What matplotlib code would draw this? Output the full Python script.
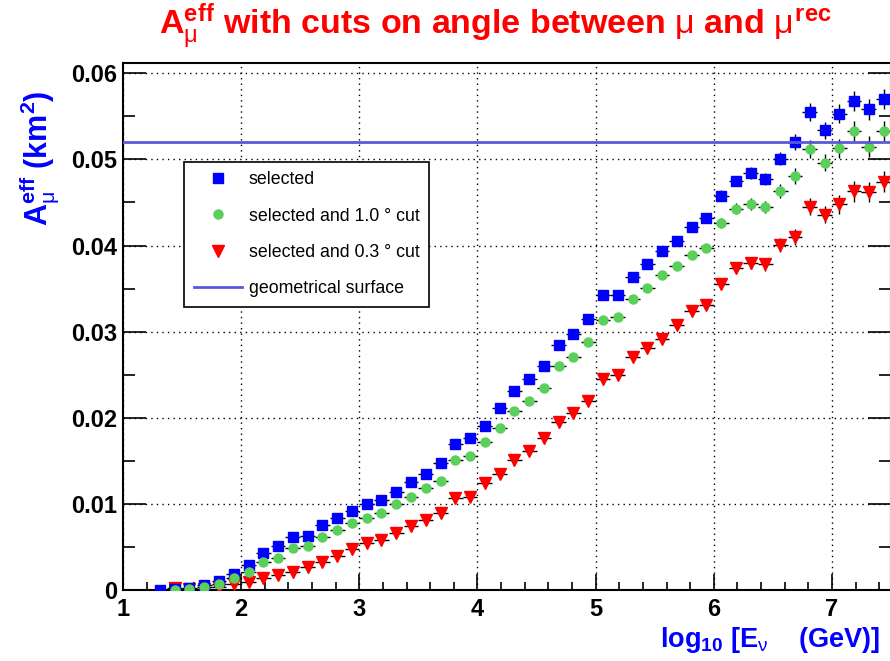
import numpy as np
import matplotlib.pyplot as plt
from matplotlib.ticker import MultipleLocator, FuncFormatter
from matplotlib.lines import Line2D

# binning in log10(E_nu / GeV)
bin_lo = 1.25
bin_hi = 7.5
n_bins = 50

# effective area (km^2) per bin
selected = [0.0000, 0.0001, 0.0002, 0.0006, 0.0011, 0.0019, 0.0029, 0.0043, 0.0051, 0.0062,
            0.0063, 0.0075, 0.0084, 0.0092, 0.0100, 0.0105, 0.0114, 0.0126, 0.0135, 0.0147,
            0.0169, 0.0177, 0.0191, 0.0211, 0.0231, 0.0245, 0.0260, 0.0285, 0.0297, 0.0315,
            0.0342, 0.0342, 0.0364, 0.0378, 0.0394, 0.0405, 0.0422, 0.0432, 0.0458, 0.0475,
            0.0484, 0.0477, 0.0501, 0.0520, 0.0555, 0.0534, 0.0553, 0.0568, 0.0558, 0.0570]
cut_10 = [np.nan, 0.0000, 0.0001, 0.0003, 0.0007, 0.0014, 0.0021, 0.0032, 0.0037, 0.0049,
          0.0051, 0.0061, 0.0070, 0.0078, 0.0084, 0.0090, 0.0100, 0.0108, 0.0118, 0.0127,
          0.0151, 0.0156, 0.0172, 0.0188, 0.0208, 0.0220, 0.0234, 0.0260, 0.0271, 0.0288,
          0.0314, 0.0317, 0.0338, 0.0351, 0.0366, 0.0376, 0.0389, 0.0397, 0.0426, 0.0443,
          0.0448, 0.0445, 0.0463, 0.0481, 0.0512, 0.0496, 0.0513, 0.0533, 0.0515, 0.0533]
cut_03 = [np.nan, 0.0002, 0.0001, 0.0001, 0.0004, 0.0007, 0.0009, 0.0014, 0.0017, 0.0021,
          0.0027, 0.0033, 0.0040, 0.0048, 0.0055, 0.0058, 0.0066, 0.0074, 0.0081, 0.0090,
          0.0107, 0.0108, 0.0124, 0.0135, 0.0151, 0.0162, 0.0176, 0.0195, 0.0205, 0.0219,
          0.0245, 0.0250, 0.0271, 0.0281, 0.0292, 0.0308, 0.0324, 0.0331, 0.0355, 0.0374,
          0.0380, 0.0378, 0.0401, 0.0410, 0.0445, 0.0436, 0.0448, 0.0463, 0.0462, 0.0474]
# rough statistical errors
stat_err = [0.0001] * 10 + [0.0002] * 10 + [0.0003] * 10 + \
           [0.0004, 0.0004, 0.0004, 0.0004, 0.0004, 0.0004, 0.0005, 0.0005, 0.0006, 0.0006,
            0.0007, 0.0007, 0.0008, 0.0009, 0.0010, 0.0010, 0.0011, 0.0012, 0.0012, 0.0012]
geom_surface = 0.052

width = (bin_hi - bin_lo) / n_bins
x = bin_lo + width * (np.arange(n_bins) + 0.5)

plt.rcParams['font.family'] = 'Liberation Sans'
plt.rcParams['mathtext.fontset'] = 'custom'
plt.rcParams['mathtext.rm'] = 'Liberation Sans:bold'
plt.rcParams['mathtext.bf'] = 'Liberation Sans:bold'
plt.rcParams['mathtext.it'] = 'Liberation Sans'
plt.rcParams['mathtext.sf'] = 'Liberation Sans:bold'
plt.rcParams['mathtext.default'] = 'rm'

fig = plt.figure(figsize=(8.9, 6.61), dpi=100)
ax = fig.add_axes([123 / 890, 71 / 661, 768 / 890, 527 / 661])

blue = '#0000ff'
green = '#5ad05a'
red = '#ff0000'

ax.errorbar(x, cut_03, xerr=width / 2, yerr=stat_err, fmt='v', color=red, ms=8,
            ecolor='black', elinewidth=1, capsize=0, zorder=3)
ax.errorbar(x, selected, xerr=width / 2, yerr=stat_err, fmt='s', color=blue, ms=6.5,
            ecolor='black', elinewidth=1, capsize=0, zorder=4)
ax.errorbar(x, cut_10, xerr=width / 2, yerr=stat_err, fmt='o', color=green, ms=6.5,
            ecolor='black', elinewidth=1, capsize=0, zorder=5)
ax.axhline(geom_surface, color='#5a5ad8', lw=2, zorder=6)

ax.set_xlim(1, bin_hi)
ax.set_ylim(0, 0.0612)
ax.xaxis.set_major_locator(MultipleLocator(1))
ax.xaxis.set_minor_locator(MultipleLocator(0.2))
ax.yaxis.set_major_locator(MultipleLocator(0.01))
ax.yaxis.set_minor_locator(MultipleLocator(0.005))
ax.yaxis.set_major_formatter(FuncFormatter(lambda v, p: '0' if abs(v) < 1e-9 else '%.2f' % v))
ax.grid(True, which='major', color='black', ls=(0, (1, 3)), lw=1)

ax.tick_params(axis='both', which='both', direction='in', right=True, top=False, width=1.2)
ax.tick_params(axis='y', which='major', length=16.5, labelsize=17, pad=4)
ax.tick_params(axis='y', which='minor', length=8.3)
ax.tick_params(axis='x', which='major', length=11.5, labelsize=17, pad=6)
ax.tick_params(axis='x', which='minor', length=5.7)
for lab in ax.get_xticklabels() + ax.get_yticklabels():
    lab.set_fontweight('bold')
for s in ax.spines.values():
    s.set_linewidth(1.5)

handles = [
    Line2D([], [], marker='s', color=blue, ls='none', ms=6.5),
    Line2D([], [], marker='o', color=green, ls='none', ms=6.5),
    Line2D([], [], marker='v', color=red, ls='none', ms=8),
    Line2D([], [], color='#5a5ad8', lw=2),
]
labels = ['selected', 'selected and 1.0 \u00b0 cut',
          'selected and 0.3 \u00b0 cut', 'geometrical surface']
leg = ax.legend(handles, labels, loc='upper left', bbox_to_anchor=(0.0794, 0.8127),
                fontsize=12.8, frameon=True, fancybox=False, framealpha=1,
                edgecolor='black', borderpad=0.55, labelspacing=1.08,
                handlelength=2.7, handletextpad=0.4, borderaxespad=0)
leg.get_frame().set_linewidth(1.2)
leg.set_zorder(10)

fig.text(495 / 890, 1 - 27 / 661,
         r'$\mathrm{A}_{\mathit{\mu}}^{\mathrm{eff}}$ with cuts on angle between $\mathit{\mu}$ and $\mathit{\mu}^{\mathrm{rec}}$',
         color=red, fontsize=24.5, fontweight='bold', ha='center', va='center')
fig.text(39 / 890, 1 - 158 / 661,
         r'$\mathrm{A}_{\mathit{\mu}}^{\mathrm{eff}}\ \mathrm{(km}^{2}\mathrm{)}$',
         color=blue, fontsize=22, rotation=90, ha='center', va='center')
fig.text(880 / 890, 1 - 640 / 661,
         r'$\mathrm{log}_{10}\ \mathrm{[E}_{\mathit{\nu}}\ \ \ \ \mathrm{(GeV)]}$',
         color=blue, fontsize=19.5, ha='right', va='center')

fig.savefig('out.png', dpi=100)
